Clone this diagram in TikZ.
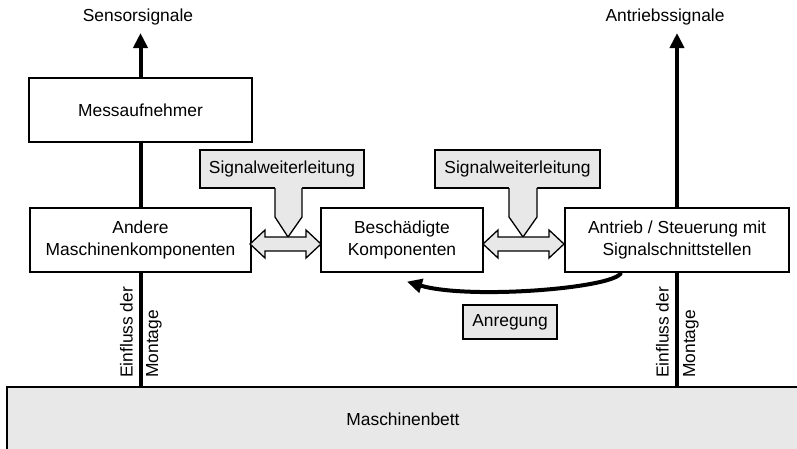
\documentclass[tikz,border=0pt]{standalone}
\usepackage{fontspec}
\setmainfont{Liberation Sans}
\usepackage{xcolor}
\usetikzlibrary{arrows.meta}
\definecolor{boxgray}{gray}{0.91}

\begin{document}
\begin{tikzpicture}[x=1pt,y=-1pt,
  every node/.style={font=\fontsize{17.4}{22}\selectfont},
  box/.style={draw, line width=1.3pt, fill=white, align=center, minimum height=64pt, inner sep=2pt},
  graybox/.style={draw, line width=1.3pt, fill=boxgray, inner sep=2pt},
  bar/.style={line width=4pt},
  sigarrow/.style={line width=4pt, -{Triangle[length=15pt,width=14pt]}},
  vtext/.style={rotate=90, inner sep=1pt}]
\useasboundingbox (0,0) rectangle (797,448);

% machine bed
\node[graybox, line width=1.6pt, minimum width=792pt, minimum height=64pt] (bett) at (403,419) {Maschinenbett};

% the boxes
\node[box, minimum width=223pt] (mess) at (140.5,110) {Messaufnehmer};
\node[box, minimum width=221pt] (andere) at (140.5,240) {Andere\\Maschinenkomponenten};
\node[box, minimum width=162pt] (besch) at (402,240) {Beschädigte\\Komponenten};
\node[box, minimum width=224pt] (antrieb) at (677,240) {Antrieb / Steuerung mit\\Signalschnittstellen};

% signals on top
\node (sens) at (138,17) {Sensorsignale};
\node (antsig) at (665,17) {Antriebssignale};
\coordinate (senstip) at (140.5,33);
\coordinate (anttip) at (677,33);

\draw[sigarrow] (mess.north) -- (senstip);
\draw[bar] (mess.south) -- (andere.north);
\draw[bar] (andere.south) -- (andere.south |- bett.north);
\draw[sigarrow] (antrieb.north) -- (anttip);
\draw[bar] (antrieb.south) -- (antrieb.south |- bett.north);

% mounting
\node[vtext, anchor=south west] (einfl1) at (134,379) {Einfluss der};
\node[vtext, anchor=north west] (mont1) at (145,379) {Montage};
\node[vtext, anchor=south west] (einfl2) at (670,379) {Einfluss der};
\node[vtext, anchor=north west] (mont2) at (682,379) {Montage};

% signal transfer
\node[graybox, minimum width=164pt, minimum height=38pt] (weiter1) at (282,169) {Signalweiterleitung};
\node[graybox, minimum width=165pt, minimum height=38pt] (weiter2) at (517.5,169) {Signalweiterleitung};

\fill[boxgray] (275,187) -- (275,217) -- (288,237) -- (302,217) -- (302,187) -- cycle;
\draw[line width=1.3pt] (275,188) -- (275,217) -- (288,237) -- (302,217) -- (302,188);
\fill[boxgray] (509,187) -- (509,217) -- (523,237) -- (537,217) -- (537,187) -- cycle;
\draw[line width=1.3pt] (509,188) -- (509,217) -- (523,237) -- (537,217) -- (537,188);

\filldraw[fill=boxgray, line width=1.3pt] (250,244) -- (265,230) -- (265,237) -- (306,237) -- (306,230)
  -- (321,244) -- (306,258) -- (306,251) -- (265,251) -- (265,258) -- cycle;
\filldraw[fill=boxgray, line width=1.3pt] (483,244) -- (498,230) -- (498,237) -- (549,237) -- (549,230)
  -- (564,244) -- (549,258) -- (549,251) -- (498,251) -- (498,258) -- cycle;

% excitation
\draw[line width=4pt, -{Triangle[length=15pt,width=14pt]}] ([xshift=-56pt]antrieb.south)
  .. controls (616,288) and (470,300) .. ([xshift=5pt,yshift=-9pt]besch.south);
\node[graybox, minimum width=94pt, minimum height=34pt] (anreg) at (510,322) {Anregung};

\end{tikzpicture}
\end{document}
